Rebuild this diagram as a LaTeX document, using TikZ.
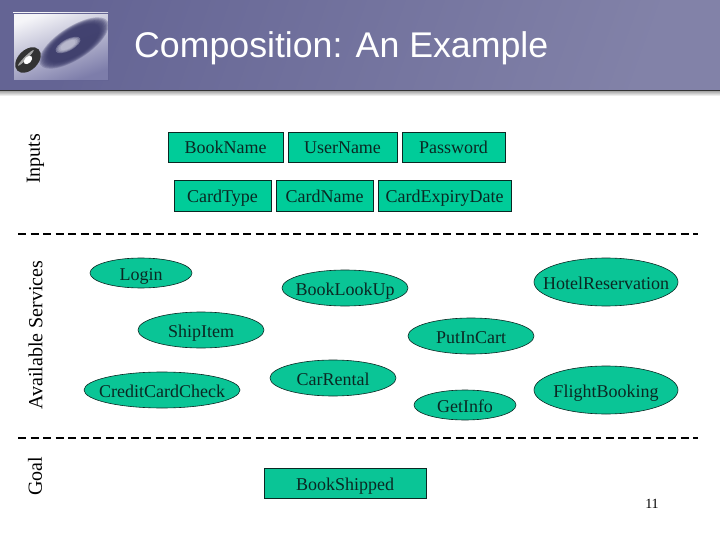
\documentclass[tikz,border=0pt]{standalone}
\usepackage{fontspec}
\setmainfont{Liberation Serif}
\newfontfamily\titlefont{Liberation Sans}
\usetikzlibrary{shapes.geometric}
\definecolor{teal1}{RGB}{0,204,153}
\definecolor{teal2}{RGB}{10,197,150}
\definecolor{hdA}{RGB}{100,100,148}
\definecolor{hdB}{RGB}{130,130,168}
\definecolor{discD}{RGB}{58,58,105}
\definecolor{logoE}{RGB}{125,125,170}
\definecolor{ink}{RGB}{10,40,35}
\newcommand\sv[1]{\makebox[0pt]{\raisebox{-1pt}{#1}}}
\tikzset{
 svc/.style={ellipse,draw=ink,fill=teal2,line width=0.6pt,inner sep=0pt,text height=16pt,text depth=4pt,font=\fontsize{18}{18}\selectfont,text=ink},
 inbox/.style={rectangle,draw=ink,fill=teal1,line width=0.8pt,inner sep=0pt,text height=16pt,text depth=4pt,font=\fontsize{18}{18}\selectfont,text=ink},
 side/.style={rotate=90,font=\fontsize{20}{20}\selectfont,inner sep=0pt},
 sep/.style={line width=1.3pt,dash pattern=on 8pt off 4.5pt},
}
\begin{document}
\begin{tikzpicture}[x=1pt,y=-1pt]
\useasboundingbox (0,0) rectangle (720,540);
% header band
\shade[left color=hdA,right color=hdB,shading angle=70] (0,0) rectangle (720,90);
\shade[top color=black!35,bottom color=white] (0,91) rectangle (720,96);
\fill[black!80] (0,90) rectangle (720,91.5);
% logo
\begin{scope}
\clip (13,13) rectangle (108,80);
\shade[left color=white!92!logoE,right color=logoE,shading angle=20] (13,13) rectangle (108,80);
\foreach \k in {1.08,1.04,1.0,0.96,0.92,0.88,0.84,0.8}
  \fill[discD,opacity=0.28,rotate around={33:(74,43)}] (74,43) ellipse ({37*\k} and {15*\k});
\foreach \k in {1.15,1.0,0.85,0.7}
  \fill[white!65!logoE,opacity=0.35,rotate around={28:(68,45)}] (68,45) ellipse ({12*\k} and {5*\k});
\end{scope}
\draw[hdA,line width=0.6pt] (13,13) rectangle (108,80);
\fill[black!80,rotate around={45:(28,60)}] (28,60) ellipse (15 and 10);
\fill[black!35,rotate around={45:(28,60)}] (28,57) ellipse (11 and 1.5);
\fill[white,rotate around={45:(28,60)}] (28,60) ellipse (5 and 3.2);
\node[font=\titlefont\fontsize{35.7}{36}\selectfont,text=white,anchor=base west,inner sep=0pt] (title) at (134,58) {Composition: An Example};
% separators
\coordinate (s1a) at (18,234); \coordinate (s1b) at (698,234);
\coordinate (s2a) at (18,438); \coordinate (s2b) at (698,438);
\draw[sep] (s1a) -- (s1b);
\draw[sep] (s2a) -- (s2b);
% side labels
\node[side] (lIn) at (35.5,159) {Inputs};
\node[side] (lAv) at (35.5,335) {Available Services};
\node[side] (lGo) at (35,476) {Goal};
% inputs
\node[inbox,minimum width=115pt,minimum height=30pt] (bn) at (225.5,147) {\sv{BookName}};
\node[inbox,minimum width=109pt,minimum height=30pt] (un) at (342.5,147) {\sv{UserName}};
\node[inbox,minimum width=103pt,minimum height=30pt] (pw) at (453.5,147) {\sv{Password}};
\node[inbox,minimum width=97pt,minimum height=31pt] (ct) at (222.5,195.5) {\sv{CardType}};
\node[inbox,minimum width=97pt,minimum height=31pt] (cn) at (324.5,195.5) {\sv{CardName}};
\node[inbox,minimum width=133pt,minimum height=31pt] (ce) at (444.5,195.5) {\sv{CardExpiryDate}};
% services
\node[svc,minimum width=102pt,minimum height=30pt] (login) at (141,273) {\sv{Login}};
\node[svc,minimum width=126pt,minimum height=36pt] (blu) at (345,288) {\sv{BookLookUp}};
\node[svc,minimum width=126pt,minimum height=36pt] (ship) at (201,330) {\sv{ShipItem}};
\node[svc,minimum width=156pt,minimum height=36pt] (ccc) at (162,390) {\sv{CreditCardCheck}};
\node[svc,minimum width=126pt,minimum height=36pt] (car) at (333,378) {\sv{CarRental}};
\node[svc,minimum width=144pt,minimum height=48pt] (hotel) at (606,282) {\sv{HotelReservation}};
\node[svc,minimum width=126pt,minimum height=36pt] (cart) at (471,336) {\sv{PutInCart}};
\node[svc,minimum width=102pt,minimum height=30pt] (info) at (465,405) {\sv{GetInfo}};
\node[svc,minimum width=144pt,minimum height=48pt] (flight) at (606,390) {\sv{FlightBooking}};
% goal
\node[inbox,fill=teal2,minimum width=162pt,minimum height=30pt] (goal) at (345,483) {\sv{BookShipped}};
\node[font=\fontsize{14}{14}\selectfont,inner sep=0pt] (page) at (652,504) {11};
\end{tikzpicture}
\end{document}
